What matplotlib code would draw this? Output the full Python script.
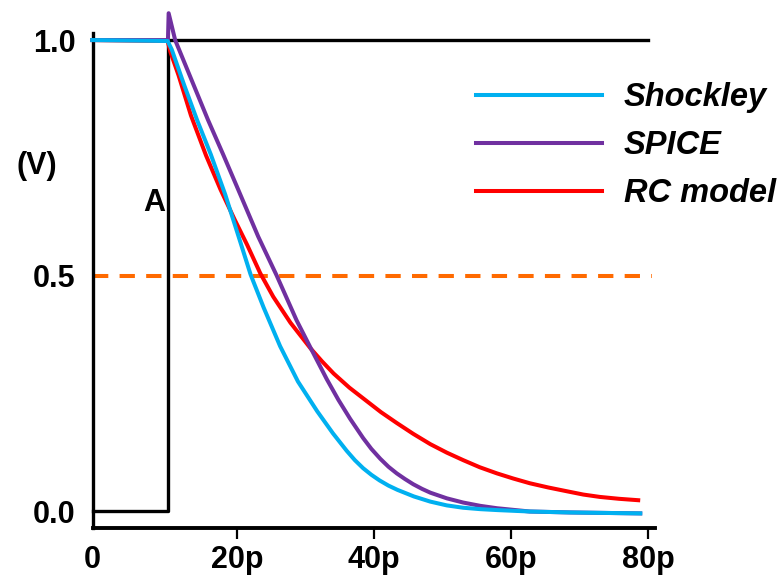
import matplotlib.pyplot as plt

plt.rcParams['font.family'] = ['Liberation Sans', 'DejaVu Sans']

# time in ps, voltage in V
t_input = [-1.0, 10.0, 10.0, 80.0]
v_input = [0.0, 0.0, 1.0, 1.0]

t_shockley = [-1.09, 9.9, 10.5, 12.3, 14.2, 16.2, 18.3, 20.2, 22.0, 23.9, 26.3, 28.9,
              31.7, 34.0, 36.0, 37.2, 38.4, 39.6, 40.8, 42.1, 43.4, 45.8, 48.2, 50.6,
              53.0, 55.5, 58.0, 62.7, 68.6, 78.8]
v_shockley = [1.0, 0.998, 0.980, 0.905, 0.830, 0.757, 0.672, 0.585, 0.502, 0.432, 0.350, 0.275,
              0.212, 0.165, 0.128, 0.108, 0.091, 0.077, 0.065, 0.054, 0.045, 0.031, 0.020, 0.012,
              0.007, 0.004, 0.002, -0.001, -0.003, -0.005]

t_spice = [-1.09, 9.95, 10.05, 11.0, 13.4, 15.8, 18.0, 20.0, 23.1, 25.8, 28.7, 30.9,
           33.1, 34.8, 36.5, 38.4, 39.6, 40.9, 42.1, 43.3, 44.5, 45.7, 47.0, 48.2,
           50.6, 53.0, 55.5, 57.9, 62.7, 68.6, 78.8]
v_spice = [1.0, 1.0, 1.057, 1.0, 0.915, 0.830, 0.757, 0.689, 0.583, 0.500, 0.405, 0.342,
           0.280, 0.236, 0.196, 0.155, 0.132, 0.111, 0.094, 0.080, 0.068, 0.057, 0.047, 0.039,
           0.027, 0.018, 0.011, 0.006, -0.001, -0.003, -0.005]

t_rc = [-1.09, 9.9, 10.3, 11.5, 13.3, 15.5, 17.6, 19.7, 21.5, 23.4, 25.3, 27.8, 30.7,
        32.4, 34.1, 36.4, 38.7, 41.0, 43.3, 45.7, 48.2, 50.6, 53.0, 55.4, 57.9, 60.3,
        62.7, 65.4, 68.1, 70.5, 72.9, 75.7, 78.5]
v_rc = [1.0, 0.998, 0.975, 0.925, 0.840, 0.755, 0.683, 0.618, 0.565, 0.505, 0.455, 0.400, 0.346,
        0.318, 0.292, 0.262, 0.236, 0.210, 0.187, 0.164, 0.142, 0.124, 0.108, 0.093, 0.080, 0.069,
        0.059, 0.050, 0.042, 0.035, 0.030, 0.026, 0.023]

half_t = [-1.0, 80.5]
half_v = [0.5, 0.5]

xticks = [-1.05, 20, 40, 60, 80]
xlabels = ['0', '20p', '40p', '60p', '80p']
yticks = [0.0, 0.5, 1.0]
ylabels = ['0.0', '0.5', '1.0']

fig = plt.figure(figsize=(7.79, 5.82), dpi=100)
ax = fig.add_axes([92.5 / 779, 54 / 582, 562.5 / 779, 495 / 582])

ax.plot(t_input, v_input, color='black', lw=2.4, zorder=2, clip_on=False)
ax.plot(half_t, half_v, color='#FF6A00', lw=2.9, dashes=(3.8, 2.8), zorder=2, clip_on=False)
l_rc, = ax.plot(t_rc, v_rc, color='#FF0000', lw=2.9, zorder=3, clip_on=False)
l_sp, = ax.plot(t_spice, v_spice, color='#7030A0', lw=2.9, zorder=4, clip_on=False)
l_sh, = ax.plot(t_shockley, v_shockley, color='#00B0F0', lw=2.9, zorder=5, clip_on=False)

ax.set_xlim(-1.05, 80.95)
ax.set_ylim(-0.036, 1.015)

for s in ['top', 'right']:
    ax.spines[s].set_visible(False)
ax.spines['left'].set_linewidth(2.4)
ax.spines['bottom'].set_linewidth(2.8)

ax.set_xticks(xticks)
ax.set_xticklabels(xlabels, fontsize=22, fontweight='bold')
ax.tick_params(axis='x', length=8, width=1.6, direction='out', pad=4)
ax.xaxis.get_major_ticks()[0].tick1line.set_visible(False)
ax.set_yticks(yticks)
ax.set_yticklabels(ylabels, fontsize=22, fontweight='bold')
ax.tick_params(axis='y', length=0, pad=12)

fig.text(37 / 779, 1 - 166 / 582, '(V)', fontsize=22, fontweight='bold', ha='center', va='center')
ax.text(7.9, 0.655, 'A', fontsize=22, fontweight='bold', ha='center', va='center')

leg = fig.legend([l_sh, l_sp, l_rc], ['Shockley', 'SPICE', 'RC model'],
                 loc='upper left', bbox_to_anchor=(476 / 779, 1 - 82 / 582),
                 frameon=False, borderpad=0, borderaxespad=0, handlelength=3.85,
                 handletextpad=0.68, labelspacing=0.52,
                 prop={'size': 23.5, 'weight': 'bold', 'style': 'italic'})

fig.savefig('out.png', dpi=100)
